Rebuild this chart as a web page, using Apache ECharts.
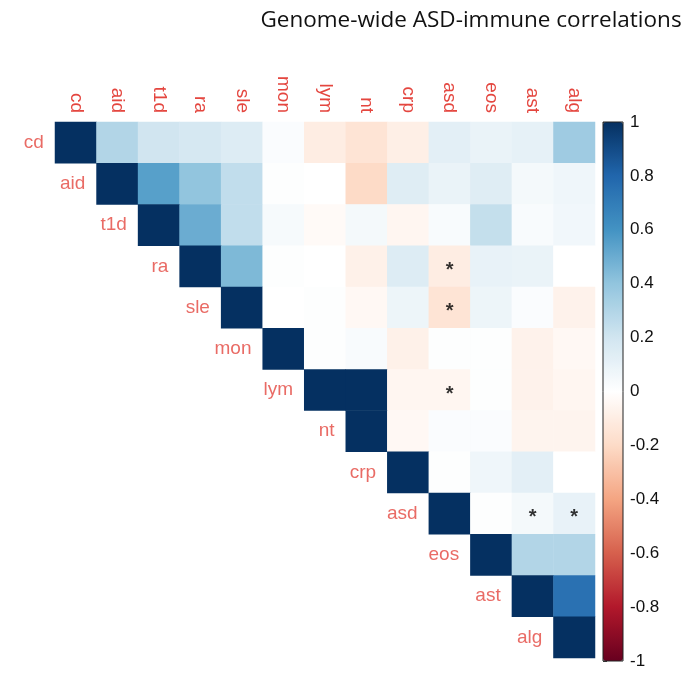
<!DOCTYPE html>
<html><head><meta charset="utf-8">
<script src="https://cdn.jsdelivr.net/npm/echarts@6/dist/echarts.min.js"></script>
<style>html,body{margin:0;padding:0;background:#fff}#c{width:688px;height:678px}</style>
</head><body><div id="c"></div>
<script>
const vars = ['cd','aid','t1d','ra','sle','mon','lym','nt','crp','asd','eos','ast','alg'];
// upper triangle rows: row i holds correlations with columns i..12
const rowCd  = [1, 0.30, 0.20, 0.18, 0.15, 0.02, -0.10, -0.15, -0.09, 0.12, 0.09, 0.11, 0.36];
const rowAid = [1, 0.55, 0.40, 0.25, 0.01, 0.00, -0.20, 0.14, 0.09, 0.14, 0.05, 0.07];
const rowT1d = [1, 0.50, 0.25, 0.04, -0.03, 0.05, -0.05, 0.03, 0.24, 0.03, 0.06];
const rowRa  = [1, 0.45, 0.01, 0.00, -0.08, 0.15, -0.10, 0.10, 0.09, 0.00];
const rowSle = [1, 0.00, 0.01, -0.04, 0.08, -0.15, 0.08, 0.02, -0.07];
const rowMon = [1, 0.01, 0.03, -0.08, 0.01, 0.01, -0.07, -0.04];
const rowLym = [1, 1.00, -0.05, -0.05, 0.01, -0.07, -0.05];
const rowNt  = [1, -0.04, 0.02, 0.02, -0.06, -0.06];
const rowCrp = [1, 0.01, 0.07, 0.12, 0.00];
const rowAsd = [1, 0.01, 0.05, 0.10];
const rowEos = [1, 0.30, 0.30];
const rowAst = [1, 0.75];
const rowAlg = [1];
const rows = [rowCd,rowAid,rowT1d,rowRa,rowSle,rowMon,rowLym,rowNt,rowCrp,rowAsd,rowEos,rowAst,rowAlg];
// significant pairs [row, column]
const signif = [['ra','asd'],['sle','asd'],['lym','asd'],['asd','ast'],['asd','alg']];
const ticks = [1,0.8,0.6,0.4,0.2,0,-0.2,-0.4,-0.6,-0.8,-1];
const palette = ['#67001F','#B2182B','#D6604D','#F4A582','#FDDBC7','#FFFFFF','#D1E5F0','#92C5DE','#4393C3','#2166AC','#053061'];

const heat = [];
rows.forEach((r,i)=>r.forEach((v,k)=>heat.push([i+k, i, v])));
const diag = vars.map((v,i)=>[i,i]);
const stars = signif.map(p=>[vars.indexOf(p[1]), vars.indexOf(p[0])]);
const red = '#E4463F';
const chart = echarts.init(document.getElementById('c'));
chart.setOption({
  animation:false,
  title:{text:'Genome-wide ASD-immune correlations', left:466, top:4, textAlign:'center',
    textStyle:{fontFamily:'Open Sans', fontWeight:'normal', fontSize:22.5, color:'#111'}},
  grid:[{left:55, top:122, width:540, height:536},
        {left:603, top:122, width:20, height:539, show:true, borderColor:'#222', borderWidth:1, backgroundColor:'transparent', z:5}],
  xAxis:[{type:'category', data:vars, position:'top', gridIndex:0,
    axisLine:{show:false}, axisTick:{show:false}, splitLine:{show:false},
    axisLabel:{rotate:90, color:red, fontSize:19, fontFamily:'Liberation Sans', margin:9}},
    {type:'value', gridIndex:1, show:false, min:0, max:1}],
  yAxis:[{type:'category', data:vars, inverse:true, gridIndex:0, show:false},
    {type:'value', gridIndex:1, position:'right', min:-1, max:1, interval:0.2,
     axisLine:{show:false}, splitLine:{show:false},
     axisTick:{show:true, length:4, lineStyle:{color:'#444'}},
     axisLabel:{color:'#111', fontSize:17, fontFamily:'Liberation Sans', margin:7,
       formatter:v=>{const r=Math.round(v*10)/10; return ticks.indexOf(r)>=0?String(r):'';}}}],
  visualMap:{type:'continuous', min:-1, max:1, calculable:false, seriesIndex:0,
    left:603, top:122, itemWidth:20, itemHeight:539, padding:0, text:['',''], showLabel:false,
    inRange:{color:palette}},
  series:[
    {type:'heatmap', data:heat, xAxisIndex:0, yAxisIndex:0, itemStyle:{borderWidth:0}},
    {type:'scatter', data:diag, xAxisIndex:0, yAxisIndex:0, symbolSize:0, silent:true,
     label:{show:true, position:'left', distance:32, color:red, fontSize:19, fontFamily:'Liberation Sans',
       formatter:p=>vars[p.data[1]]}},
    {type:'scatter', data:stars, xAxisIndex:0, yAxisIndex:0, symbolSize:0, silent:true,
     label:{show:true, position:'inside', formatter:'*', color:'#000', fontSize:20, fontWeight:'bold', offset:[0,4]}},
    {type:'scatter', data:[], xAxisIndex:1, yAxisIndex:1}
  ]
});
</script></body></html>
